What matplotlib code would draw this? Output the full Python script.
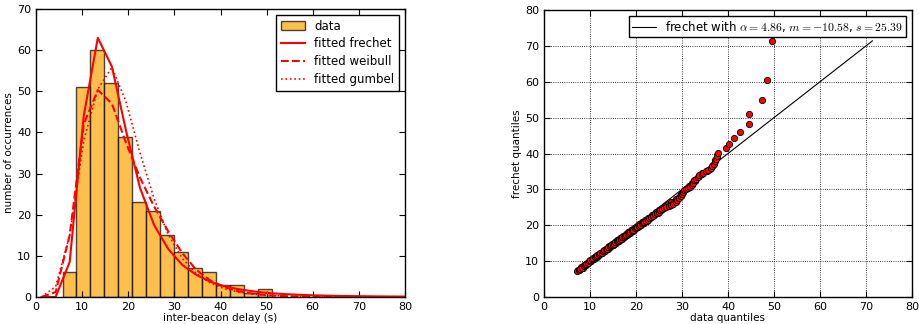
import matplotlib
matplotlib.use("Agg")
import matplotlib.pyplot as plt
import numpy as np

# ---------------- data ----------------
bin_edges = [5.75, 8.78, 11.81, 14.84, 17.87, 20.90, 23.93, 26.96, 29.99,
             33.02, 36.05, 39.08, 42.11, 45.14, 48.17, 51.20]
counts = [6, 51, 60, 52, 39, 23, 21, 15, 11, 7, 6, 3, 3, 1, 2]

fit_x = [1.2, 4.25, 7.3, 10.35, 13.4, 16.45, 19.5, 22.55, 25.6, 28.65, 31.7,
         34.75, 37.8, 40.85, 43.9, 46.95, 50.0, 53.05, 56.1, 59.15, 62.2,
         65.25, 68.3, 71.35, 74.4, 77.45, 80.5]
frechet_y = [0.0, 0.0, 8.5, 44.0, 63.0, 56.0, 40.5, 26.5, 17.5, 11.7, 7.8,
             5.4, 3.7, 2.6, 1.9, 1.4, 1.0, 0.76, 0.58, 0.45, 0.35, 0.27,
             0.22, 0.18, 0.14, 0.12, 0.10]
weibull_y = [0.0, 1.2, 15.0, 42.0, 50.3, 47.0, 37.5, 29.0, 22.0, 16.0, 10.7,
             6.6, 4.0, 2.4, 1.4, 0.8, 0.45, 0.25, 0.13, 0.07, 0.04, 0.02,
             0.01, 0.0, 0.0, 0.0, 0.0]
gumbel_y = [0.0, 2.5, 15.0, 38.0, 50.5, 55.8, 47.5, 35.0, 23.9, 15.2, 9.4,
            5.7, 3.4, 2.0, 1.2, 0.7, 0.42, 0.25, 0.15, 0.09, 0.05, 0.03,
            0.02, 0.01, 0.0, 0.0, 0.0]

qq_data = [7.1, 7.5, 7.9, 8.3, 8.6, 8.9, 9.2, 9.5, 9.8, 10.1, 10.4, 10.7,
           11.0, 11.3, 11.6, 11.9, 12.2, 12.5, 12.8, 13.1, 13.4, 13.7, 14.0,
           14.3, 14.6, 14.9, 15.2, 15.5, 15.8, 16.1, 16.4, 16.7, 17.0, 17.3,
           17.6, 17.9, 18.2, 18.5, 18.8, 19.1, 19.4, 19.7, 20.0, 20.3, 20.6,
           20.9, 21.2, 21.5, 21.8, 22.1, 22.5, 22.9, 23.3, 23.7, 24.1, 24.5,
           24.9, 25.3, 25.7, 26.1, 26.6, 27.1, 27.6, 28.1, 28.6, 29.0, 29.4,
           29.7, 30.0, 30.2, 30.5, 30.9, 31.4, 31.8, 32.1, 32.4, 32.6, 33.0,
           33.4, 33.8, 34.3, 34.6, 35.2, 35.7, 36.2, 36.5, 36.9, 37.1, 37.4,
           37.6, 37.8, 39.6, 40.2, 41.2, 42.7, 44.6, 44.6, 47.3, 48.5, 49.5]
qq_frechet = [7.2, 7.5, 7.8, 8.2, 8.6, 9.0, 9.3, 9.6, 9.9, 10.2, 10.5, 10.8,
              11.1, 11.3, 11.6, 11.9, 12.2, 12.4, 12.7, 13.0, 13.3, 13.5,
              13.8, 14.1, 14.4, 14.6, 14.9, 15.2, 15.5, 15.7, 16.0, 16.3,
              16.6, 16.8, 17.1, 17.4, 17.7, 17.9, 18.2, 18.5, 18.8, 19.1,
              19.4, 19.6, 19.9, 20.2, 20.5, 20.8, 21.0, 21.3, 21.6, 21.9,
              22.3, 22.6, 23.0, 23.4, 23.8, 24.2, 24.5, 24.8, 25.1, 25.4,
              25.7, 26.0, 26.4, 26.9, 27.5, 28.1, 28.8, 29.4, 29.9, 30.1,
              30.4, 30.8, 31.3, 31.9, 32.5, 33.0, 33.5, 33.9, 34.2, 34.7,
              35.0, 35.4, 35.9, 36.6, 37.2, 37.8, 38.5, 39.2, 40.1, 41.4,
              42.7, 44.3, 46.1, 48.2, 51.0, 54.8, 60.4, 71.4]
# further sample quantiles (interleaved with the ones above)
qq_data_b = [7.3, 7.7, 8.1, 8.45, 8.75, 9.05, 9.35, 9.65, 9.95, 10.25,
             10.55, 10.85, 11.15, 11.45, 11.75, 12.05, 12.35, 12.65, 12.95, 13.25,
             13.55, 13.85, 14.15, 14.45, 14.75, 15.05, 15.35, 15.65, 15.95, 16.25,
             16.55, 16.85, 17.15, 17.45, 17.75, 18.05, 18.35, 18.65, 18.95, 19.25,
             19.55, 19.85, 20.15, 20.45, 20.75, 21.05, 21.35, 21.65, 21.95, 22.3,
             22.7, 23.1, 23.5, 23.9, 24.3, 24.7, 25.1, 25.5, 26.3, 27.0,
             27.6, 28.2, 28.8, 29.3, 29.8, 30.3, 31.0, 31.6, 32.2, 32.8,
             33.6, 34.4, 35.5, 36.0, 36.7, 37.2, 37.5, 37.7]
qq_frechet_b = [7.6, 7.5, 8.4, 8.2, 9.0, 8.8, 9.6, 9.35, 10.1, 9.9,
                10.7, 10.5, 11.25, 11.05, 11.8, 11.6, 12.4, 12.2, 12.95, 12.75,
                13.5, 13.3, 14.1, 13.9, 14.65, 14.45, 15.2, 15.0, 15.8, 15.55,
                16.35, 16.1, 16.9, 16.7, 17.45, 17.25, 18.0, 17.8, 18.6, 18.4,
                19.15, 18.95, 19.7, 19.5, 20.3, 20.1, 20.85, 20.65, 21.4, 21.25,
                22.1, 22.0, 22.85, 22.75, 23.6, 23.5, 24.35, 24.25, 25.5, 25.9,
                26.4, 26.6, 27.2, 27.9, 28.6, 29.2, 30.4, 30.9, 31.7, 32.4,
                33.7, 34.5, 35.2, 35.7, 36.9, 38.1, 38.9, 39.6]

alpha_p, m_p, s_p = 4.86, -10.58, 25.39

# ---------------- style ----------------
plt.rcParams.update({
    "font.family": "DejaVu Sans",
    "font.size": 8,
    "mathtext.fontset": "cm",
    "xtick.direction": "in",
    "ytick.direction": "in",
    "xtick.top": True,
    "ytick.right": True,
    "xtick.major.size": 4,
    "ytick.major.size": 4,
    "xtick.labelsize": 8,
    "ytick.labelsize": 8,
    "axes.linewidth": 1.0,
    "legend.fancybox": False,
    "legend.edgecolor": "black",
    "legend.framealpha": 1.0,
})

fig = plt.figure(figsize=(9.19, 3.24), dpi=100)
fig.patch.set_facecolor("white")
ax1 = fig.add_axes([36 / 919, 27 / 324, 369 / 919, 288 / 324])
ax2 = fig.add_axes([544 / 919, 27 / 324, 368 / 919, 287 / 324])

# ---------------- left: histogram + fits ----------------
edges = np.array(bin_edges)
bars = ax1.bar(edges[:-1], counts, width=np.diff(edges), align="edge",
               color="orange", alpha=0.7, edgecolor="black", linewidth=1.0,
               label="data")
l1, = ax1.plot(fit_x, frechet_y, color="red", lw=1.5, ls="-", label="fitted frechet")
l2, = ax1.plot(fit_x, weibull_y, color="red", lw=1.5, ls="--", label="fitted weibull")
l3, = ax1.plot(fit_x, gumbel_y, color="red", lw=1.2, ls=":", label="fitted gumbel")
ax1.set_xlim(0, 80)
ax1.set_ylim(0, 70)
ax1.set_xticks(range(0, 81, 10))
ax1.set_yticks(range(0, 71, 10))
ax1.set_xlabel("inter-beacon delay (s)", fontsize=7.5, labelpad=1)
ax1.set_ylabel("number of occurrences", fontsize=7.5, labelpad=2)
ax1.legend([bars, l1, l2, l3],
           ["data", "fitted frechet", "fitted weibull", "fitted gumbel"],
           loc="upper right", fontsize=8.5, borderaxespad=0.5,
           handlelength=2.0, labelspacing=0.4)

# ---------------- right: QQ plot ----------------
all_q = qq_frechet + qq_frechet_b
lo, hi = min(all_q), max(all_q)
ax2.plot([lo, hi], [lo, hi], color="black", lw=0.8,
         label=r"frechet with $\alpha=%.2f$, $m=%.2f$, $s=%.2f$" % (alpha_p, m_p, s_p))
ax2.plot(qq_data_b, qq_frechet_b, ls="none", marker="o", ms=4.5,
         markerfacecolor="red", markeredgecolor="black", mew=0.6)
ax2.plot(qq_data, qq_frechet, ls="none", marker="o", ms=4.5,
         markerfacecolor="red", markeredgecolor="black", mew=0.6)
ax2.set_xlim(0, 80)
ax2.set_ylim(0, 80)
ax2.set_xticks(range(0, 81, 10))
ax2.set_yticks(range(0, 81, 10))
ax2.grid(True, color="black", ls=":", lw=0.6)
ax2.set_axisbelow(True)
ax2.set_xlabel("data quantiles", fontsize=7.5, labelpad=1)
ax2.set_ylabel("frechet quantiles", fontsize=7.5, labelpad=2)
ax2.legend(loc="upper right", fontsize=8.5, borderaxespad=0.5,
           borderpad=0.25, handlelength=2.0)

fig.savefig("out.png", dpi=100, facecolor="white")
